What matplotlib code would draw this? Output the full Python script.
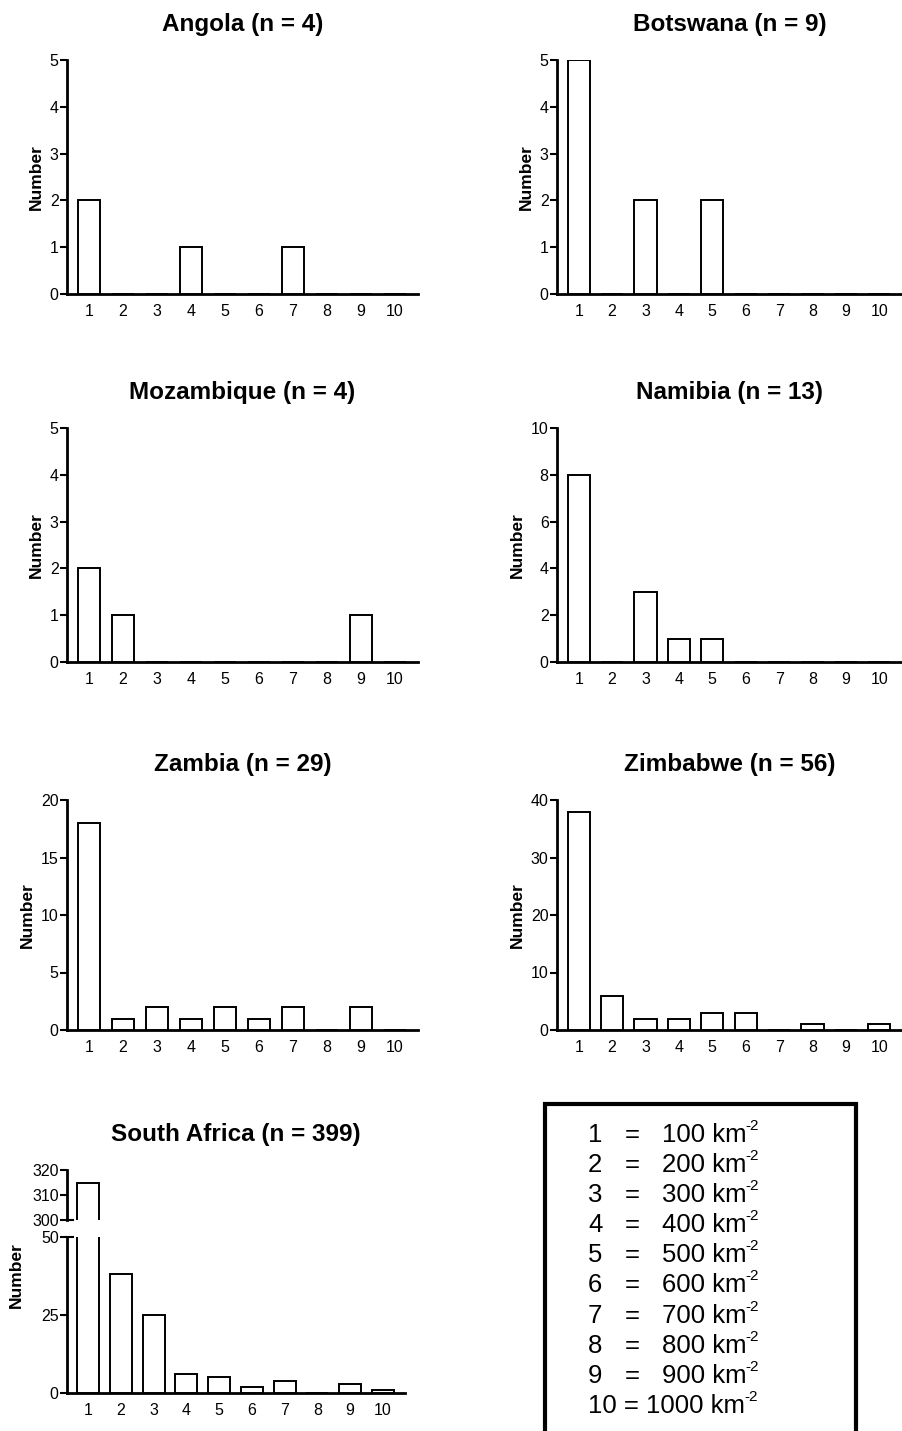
"""
Density-class histograms for seven southern African countries,
laid out 2 x 4 with a key box in the last cell. Saves out.png.
"""

import matplotlib
matplotlib.use("Agg")
import matplotlib.pyplot as plt
import matplotlib.patches as mpatches

plt.rcParams["font.family"] = ["Liberation Sans", "DejaVu Sans"]

# Density classes (x axis)
categories = [1, 2, 3, 4, 5, 6, 7, 8, 9, 10]

# Counts per class
angola = [2, 0, 0, 1, 0, 0, 1, 0, 0, 0]
botswana = [5, 0, 2, 0, 2, 0, 0, 0, 0, 0]
mozambique = [2, 1, 0, 0, 0, 0, 0, 0, 1, 0]
namibia = [8, 0, 3, 1, 1, 0, 0, 0, 0, 0]
zambia = [18, 1, 2, 1, 2, 1, 2, 0, 2, 0]
zimbabwe = [38, 6, 2, 2, 3, 3, 0, 1, 0, 1]
south_africa = [315, 38, 25, 6, 5, 2, 4, 0, 3, 1]

# Panel titles and y ticks
titles = ["Angola (n = 4)", "Botswana (n = 9)", "Mozambique (n = 4)",
          "Namibia (n = 13)", "Zambia (n = 29)", "Zimbabwe (n = 56)"]
yticks = [[0, 1, 2, 3, 4, 5], [0, 1, 2, 3, 4, 5], [0, 1, 2, 3, 4, 5],
          [0, 2, 4, 6, 8, 10], [0, 5, 10, 15, 20], [0, 10, 20, 30, 40]]
sa_title = "South Africa (n = 399)"
sa_upper_ticks = [300, 310, 320]
sa_lower_ticks = [0, 25, 50]

# Key box
key_classes = ["1", "2", "3", "4", "5", "6", "7", "8", "9", "10"]
key_values = ["100", "200", "300", "400", "500", "600", "700", "800", "900",
              "1000"]
key_unit = "km"
key_power = "-2"

W, H = 903, 1431
BAR_W = 0.67
XLIM = (0.35, 10.68)
SPINE_LW = 2.0
EDGE_LW = 1.4
TICK_FS = 11.5
KEY_FS = 18.5


def px_axes(fig, x0, x1, y0, y1):
    """Add axes given pixel box (y measured from the top)."""
    return fig.add_axes([x0 / W, 1 - y1 / H, (x1 - x0) / W, (y1 - y0) / H])


def style(ax, ticks, show_bottom=True):
    for s in ("top", "right"):
        ax.spines[s].set_visible(False)
    ax.spines["left"].set_linewidth(SPINE_LW)
    ax.spines["bottom"].set_linewidth(SPINE_LW)
    if not show_bottom:
        ax.spines["bottom"].set_visible(False)
    ax.set_xlim(*XLIM)
    ax.set_ylim(ticks[0], ticks[-1])
    ax.set_yticks(ticks)
    ax.set_xticks(categories)
    ax.tick_params(axis="y", direction="out", length=5, width=1.5,
                   labelsize=TICK_FS, pad=1)
    ax.tick_params(axis="x", length=0, labelsize=TICK_FS, pad=7)
    if not show_bottom:
        ax.tick_params(axis="x", labelbottom=False)


def draw_bars(ax, values):
    ax.bar(categories, values, width=BAR_W, color="white",
           edgecolor="black", linewidth=EDGE_LW, zorder=3)


fig = plt.figure(figsize=(W / 100, H / 100), dpi=100)

# Six simple panels, pixel boxes
left_col = (67, 418)
right_col = (557, 902)
rows = [(60, 294), (428, 662), (800, 1030)]
series = [angola, botswana, mozambique, namibia, zambia, zimbabwe]

for i, vals in enumerate(series):
    x0, x1 = left_col if i % 2 == 0 else right_col
    y0, y1 = rows[i // 2]
    ax = px_axes(fig, x0, x1, y0, y1)
    draw_bars(ax, vals)
    style(ax, yticks[i])
    ax.set_title(titles[i], fontsize=17.5, fontweight="bold", pad=21)
    ax.set_ylabel("Number", fontsize=12.5, fontweight="bold", labelpad=4)

# South Africa: broken y axis
ax_up = px_axes(fig, 67, 405, 1170, 1220)
ax_lo = px_axes(fig, 67, 405, 1237, 1393)
for ax, ticks, bottom in ((ax_up, sa_upper_ticks, False),
                          (ax_lo, sa_lower_ticks, True)):
    draw_bars(ax, south_africa)
    style(ax, ticks, show_bottom=bottom)

ax_up.set_title(sa_title, fontsize=17.5, fontweight="bold", pad=21)
# break marks on the spine
for ax, yy in ((ax_up, 0), (ax_lo, 1)):
    ax.plot([0, 0.018], [yy, yy], transform=ax.transAxes, color="black",
            lw=1.5, clip_on=False, zorder=5)
fig.text(16 / W, 1 - 1275 / H, "Number", rotation=90, ha="center",
         va="center", fontsize=12.5, fontweight="bold")

# Key box (runs off the bottom of the figure)
fig.patches.append(mpatches.Rectangle(
    (545 / W, -0.02), (856 - 545) / W, (1 - 1104 / H) + 0.02,
    transform=fig.transFigure, fill=False, edgecolor="black", linewidth=3))

renderer = fig.canvas.get_renderer()
row_step = 30.1
base_y = 1142
for k, (c, v) in enumerate(zip(key_classes, key_values)):
    yb = base_y + k * row_step
    if c == "10":
        t = fig.text(588 / W, 1 - yb / H, f"{c} = {v} {key_unit}",
                     fontsize=KEY_FS, ha="left", va="baseline")
    else:
        fig.text(588 / W, 1 - yb / H, c, fontsize=KEY_FS, ha="left",
                 va="baseline")
        fig.text(632 / W, 1 - yb / H, "=", fontsize=KEY_FS, ha="center",
                 va="baseline")
        t = fig.text(662 / W, 1 - yb / H, f"{v} {key_unit}",
                     fontsize=KEY_FS, ha="left", va="baseline")
    x_end = t.get_window_extent(renderer).x1
    fig.text((x_end - 1) / W, 1 - (yb - 12) / H, key_power, fontsize=11,
             ha="left", va="baseline")

fig.savefig("out.png", dpi=100)
